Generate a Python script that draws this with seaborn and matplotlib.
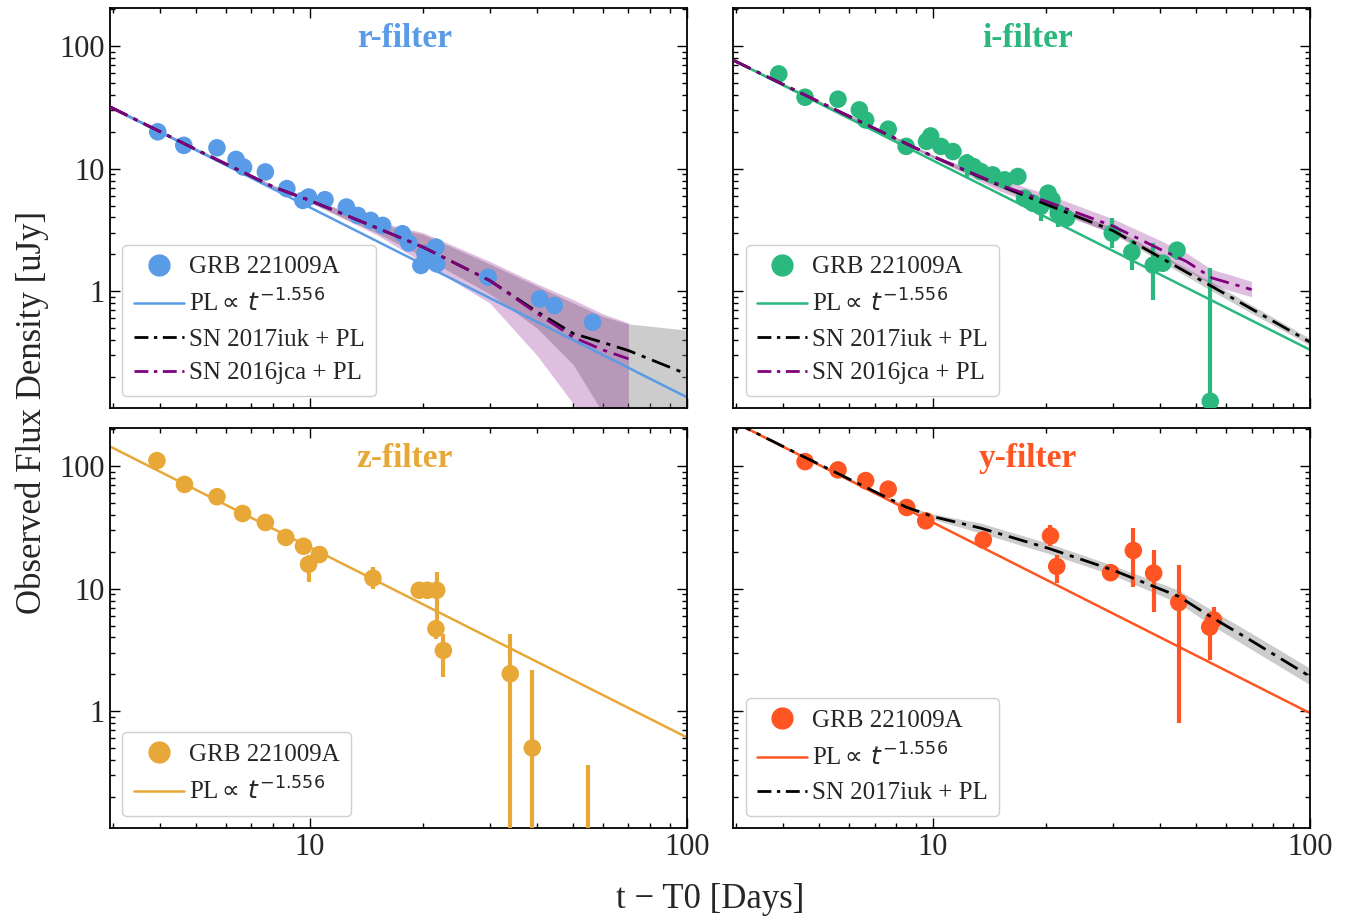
import numpy as np
import pandas as pd
import seaborn as sns
import matplotlib
matplotlib.use("Agg")
import matplotlib.pyplot as plt
from matplotlib.lines import Line2D
from matplotlib.ticker import FuncFormatter, LogLocator

# ---- observed photometry (t - T0 [days], flux [uJy], err low, err high) ----
r_t = [3.95, 4.63, 5.67, 6.37, 6.67, 7.62, 8.69, 9.58, 9.92, 10.97, 12.5, 13.4,
       14.5, 15.6, 17.6, 18.3, 19.7, 20.2, 21.6, 21.7, 29.7, 40.7, 44.5, 56.2]
r_f = [20.0, 15.5, 14.8, 11.9, 10.3, 9.4, 6.87, 5.51, 5.87, 5.58, 4.86, 4.15,
       3.78, 3.44, 2.94, 2.47, 1.62, 2.02, 2.29, 1.67, 1.30, 0.864, 0.762, 0.557]
r_lo = [0.8, 0.6, 0.6, 0.5, 0.5, 0.4, 0.4, 0.5, 1.0, 0.6, 0.7, 0.3,
        0.2, 0.2, 0.2, 0.2, 0.25, 0.3, 0.25, 0.2, 0.1, 0.05, 0.05, 0.03]
r_hi = r_lo

i_t = [3.90, 4.58, 5.60, 6.38, 6.63, 7.61, 8.49, 9.62, 9.86, 10.5, 11.3, 12.3,
       12.8, 13.4, 14.4, 15.5, 16.8, 17.5, 18.4, 19.3, 20.2, 20.7, 21.5, 22.6,
       29.9, 33.7, 38.4, 40.7, 44.4, 54.4]
i_f = [59.4, 38.3, 36.9, 30.2, 25.0, 21.0, 15.2, 16.7, 18.5, 15.2, 13.8, 11.1,
       10.4, 9.48, 8.90, 8.10, 8.63, 5.74, 5.23, 4.91, 6.31, 5.56, 4.33, 3.94,
       2.97, 2.08, 1.63, 1.69, 2.16, 0.126]
i_lo = [3, 2, 2, 1.5, 1.2, 1, 1, 2, 2.5, 2, 1.5, 2.5,
        1, 1, 1, 1, 1, 0.8, 0.8, 1.2, 0.8, 1.5, 1.0, 0.5,
        0.73, 0.6, 0.79, 0.15, 0.37, 0.12]
i_hi = [3, 2, 2, 1.5, 1.2, 1, 1, 2, 2.5, 2, 1.5, 2.0,
        1, 1, 1, 1, 1, 0.8, 0.8, 0.8, 0.8, 1.0, 1.0, 0.5,
        0.97, 0.52, 0.84, 0.15, 0.34, 1.41]

z_t = [3.93, 4.65, 5.67, 6.63, 7.62, 8.63, 9.62, 9.92, 10.6, 14.7, 19.5, 20.5,
       21.7, 21.6, 22.6, 34.0, 38.9, 54.5]
z_f = [111, 71, 56.3, 41.1, 34.7, 26.2, 22.2, 15.8, 19.0, 12.2, 9.7, 9.7,
       9.7, 4.71, 3.13, 2.02, 0.50, 0.02]
z_lo = [8, 4, 3, 2, 2, 1.5, 1.5, 4.5, 1.5, 2.2, 0.5, 0.5,
        5.4, 0.8, 1.23, 1.99, 0.49, 0.019]
z_hi = [8, 4, 3, 2, 2, 1.5, 1.5, 3.0, 1.5, 2.9, 0.5, 0.5,
        4.0, 0.8, 1.16, 2.27, 1.65, 0.34]

y_t = [4.58, 5.60, 6.63, 7.61, 8.52, 9.57, 13.6, 20.5, 21.3, 29.6, 34.0, 38.5,
       44.9, 54.2, 55.5]
y_f = [109, 93.3, 76.3, 64.9, 46.0, 35.8, 25.0, 27.0, 15.2, 13.5, 20.5, 13.4,
       7.71, 4.85, 5.56]
y_lo = [6, 8, 5, 5, 3, 3, 2, 4.9, 4.1, 1.2, 10.1, 6.9, 6.91, 2.25, 1.0]
y_hi = [6, 8, 5, 5, 3, 3, 2, 6.2, 3.7, 1.2, 10.7, 7.3, 7.9, 1.05, 1.5]

# ---- power-law fits (end points of the PL line) ----
pl_t = [2.95, 100]
pl_r = [32.0, 0.136]
pl_i = [77.0, 0.332]
pl_z = [145.0, 0.61]
pl_y = [232.0, 0.964]

# ---- SN + PL models with bands ----
iuk_r_t = [2.95, 5, 8, 10, 15, 20, 30, 40, 50, 60, 70, 100]
iuk_r = [32.0, 14.3, 7.1, 5.5, 3.3, 2.28, 1.22, 0.68, 0.45, 0.38, 0.327, 0.21]
iuk_r_lo = [31.0, 13.9, 6.9, 5.3, 3.0, 1.9, 0.95, 0.5, 0.25, 0.1, 0.04, 0.02]
iuk_r_hi = [33.0, 14.7, 7.3, 5.7, 3.6, 2.9, 1.67, 1.1, 0.8, 0.62, 0.54, 0.48]

jca_r_t = [2.95, 5, 8, 10, 15, 20, 30, 40, 50, 60, 70]
jca_r = [32.0, 14.3, 7.1, 5.5, 3.3, 2.28, 1.22, 0.66, 0.42, 0.33, 0.28]
jca_r_lo = [31.0, 13.9, 6.9, 5.3, 2.9, 1.7, 0.8, 0.3, 0.12, 0.05, 0.03]
jca_r_hi = [33.0, 14.7, 7.3, 5.7, 3.7, 3.0, 1.75, 1.15, 0.85, 0.65, 0.55]

iuk_i_t = [2.95, 5, 10, 15, 20, 30, 40, 55, 70, 100]
iuk_i = [77.0, 35.0, 12.6, 7.3, 5.1, 3.12, 1.89, 1.09, 0.716, 0.384]
iuk_i_lo = [75.0, 34.0, 12.2, 7.0, 4.85, 2.95, 1.76, 1.0, 0.66, 0.36]
iuk_i_hi = [79.0, 36.0, 13.0, 7.6, 5.35, 3.3, 2.02, 1.18, 0.77, 0.41]

jca_i_t = [2.95, 5, 10, 15, 20, 30, 40, 47, 55, 62, 70]
jca_i = [77.0, 35.0, 12.6, 7.4, 5.4, 3.4, 2.2, 1.75, 1.28, 1.15, 1.03]
jca_i_lo = [76.0, 34.5, 12.3, 6.6, 4.7, 2.95, 1.9, 1.5, 1.12, 1.0, 0.9]
jca_i_hi = [78.0, 35.5, 12.9, 8.3, 6.2, 3.9, 2.6, 2.05, 1.5, 1.35, 1.2]

iuk_y_t = [2.95, 4.58, 8.5, 10, 13.4, 20.2, 29.8, 44.9, 54.4, 69.3, 100]
iuk_y = [232.0, 118.0, 46.3, 38.8, 31.2, 21.4, 14.3, 8.63, 5.93, 3.82, 1.92]
iuk_y_lo = [228.0, 116.0, 45.0, 36.9, 28.4, 19.4, 13.0, 7.6, 5.1, 3.25, 1.64]
iuk_y_hi = [236.0, 120.0, 47.6, 40.7, 34.3, 23.5, 15.6, 9.7, 6.8, 4.4, 2.24]

filters = ["r-filter", "i-filter", "z-filter", "y-filter"]
colors = ["#5a9be8", "#2bb87f", "#e8a838", "#ff5522"]

sns.set_theme(style="ticks")
plt.rcParams["font.family"] = ["Liberation Serif", "DejaVu Serif"]
plt.rcParams["mathtext.fontset"] = "dejavusans"

panels = [
    dict(t=r_t, f=r_f, lo=r_lo, hi=r_hi, pl=pl_r,
         iuk=(iuk_r_t, iuk_r, iuk_r_lo, iuk_r_hi),
         jca=(jca_r_t, jca_r, jca_r_lo, jca_r_hi)),
    dict(t=i_t, f=i_f, lo=i_lo, hi=i_hi, pl=pl_i,
         iuk=(iuk_i_t, iuk_i, iuk_i_lo, iuk_i_hi),
         jca=(jca_i_t, jca_i, jca_i_lo, jca_i_hi)),
    dict(t=z_t, f=z_f, lo=z_lo, hi=z_hi, pl=pl_z, iuk=None, jca=None),
    dict(t=y_t, f=y_f, lo=y_lo, hi=y_hi, pl=pl_y,
         iuk=(iuk_y_t, iuk_y, iuk_y_lo, iuk_y_hi), jca=None),
]

fig, axes = plt.subplots(2, 2, figsize=(13.61, 9.23), dpi=100, sharex=True, sharey=True)
fig.subplots_adjust(left=0.0808, right=0.9625, top=0.9913, bottom=0.1029,
                    wspace=0.08, hspace=0.05)

dashdot = (0, (7, 2.5, 1.5, 2.5))

for ax, name, col, p in zip(axes.flat, filters, colors, panels):
    ax.set_xscale("log")
    ax.set_yscale("log")
    handles = []
    labels = []

    ax.errorbar(p["t"], p["f"], yerr=[p["lo"], p["hi"]], fmt="none",
                ecolor=col, elinewidth=3, capsize=0, zorder=3)
    sns.scatterplot(x=p["t"], y=p["f"], ax=ax, color=col, s=160,
                    edgecolor="none", zorder=4, legend=False)
    handles.append(Line2D([], [], marker="o", ls="none", color=col, markersize=15))
    labels.append("GRB 221009A")

    sns.lineplot(x=pl_t, y=p["pl"], ax=ax, color=col, lw=1.8, zorder=2, legend=False)
    handles.append(Line2D([], [], color=col, lw=1.8))
    labels.append(r"PL $\!\!\propto\, t^{-1.556}$")

    if p["iuk"] is not None:
        tt, mm, lo, hi = p["iuk"]
        ax.fill_between(tt, lo, hi, color="gray", alpha=0.4, lw=0, zorder=1)
        sns.lineplot(x=tt, y=mm, ax=ax, color="black", lw=2, linestyle=dashdot,
                     zorder=5, legend=False)
        handles.append(Line2D([], [], color="black", lw=2, ls=(0, (5, 2, 1.2, 2))))
        labels.append("SN 2017iuk + PL")

    if p["jca"] is not None:
        tt, mm, lo, hi = p["jca"]
        ax.fill_between(tt, lo, hi, color="purple", alpha=0.25, lw=0, zorder=1)
        sns.lineplot(x=tt, y=mm, ax=ax, color="purple", lw=2, linestyle=dashdot,
                     zorder=5, legend=False)
        handles.append(Line2D([], [], color="purple", lw=2, ls=(0, (5, 2, 1.2, 2))))
        labels.append("SN 2016jca + PL")

    ax.set_xlim(2.95, 100)
    ax.set_ylim(0.111, 205)
    ax.text(0.51, 0.925, name, transform=ax.transAxes, ha="center", va="center",
            color=col, fontsize=24, fontweight="bold")

    leg = ax.legend(handles, labels, loc="lower left", fontsize=18, frameon=True,
                    fancybox=True, edgecolor="#d0d0d0", framealpha=1,
                    handlelength=2.0, handletextpad=0.2, borderaxespad=0.5,
                    labelspacing=0.45, borderpad=0.45)
    leg.set_zorder(6)

    ax.xaxis.set_major_locator(LogLocator(base=10))
    ax.xaxis.set_minor_locator(LogLocator(base=10, subs=np.arange(2, 10)))
    ax.yaxis.set_major_locator(LogLocator(base=10))
    ax.yaxis.set_minor_locator(LogLocator(base=10, subs=np.arange(2, 10)))
    fmt = FuncFormatter(lambda v, _: f"{v:g}")
    ax.xaxis.set_major_formatter(fmt)
    ax.yaxis.set_major_formatter(fmt)
    ax.tick_params(which="both", direction="in", top=True, right=True,
                   labelsize=22, width=1, color="black")
    ax.tick_params(which="major", length=7)
    ax.tick_params(which="minor", length=3.5)
    for s in ax.spines.values():
        s.set_linewidth(1.3)
        s.set_color("black")

fig.text(0.522, 0.026, "t − T0 [Days]", ha="center", va="center", fontsize=25)
fig.text(0.024, 0.553, "Observed Flux Density [uJy]", ha="center", va="center",
         rotation=90, fontsize=25)

plt.savefig("out.png", dpi=100)
